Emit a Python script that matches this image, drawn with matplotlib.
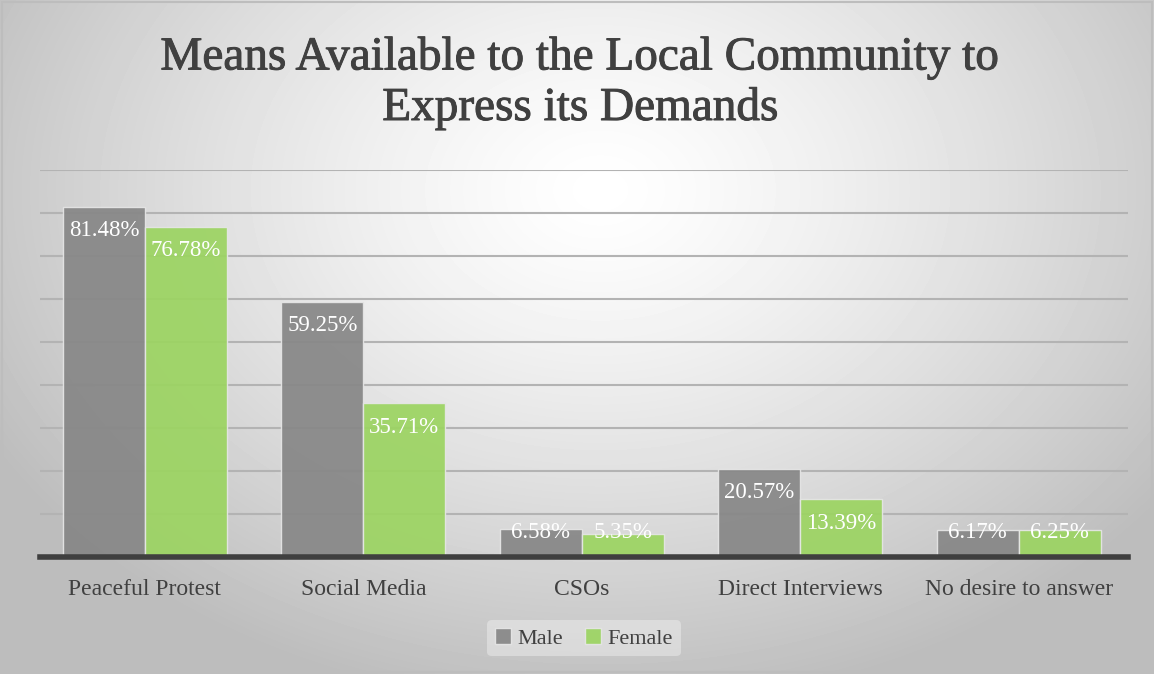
import numpy as np
import matplotlib.pyplot as plt
import matplotlib.patheffects as pe
from matplotlib.patches import Rectangle

plt.rcParams['font.family'] = ['Liberation Serif', 'DejaVu Serif']

categories = ['Peaceful Protest', 'Social Media', 'CSOs', 'Direct Interviews', 'No desire to answer']
male = [81.48, 59.25, 6.58, 20.57, 6.17]
female = [76.78, 35.71, 5.35, 13.39, 6.25]

gray = '#878787'
green = '#9cd462'
text_col = '#404040'

fig = plt.figure(figsize=(11.54, 6.74), dpi=100)

# radial gradient background
bg = fig.add_axes([0, 0, 1, 1])
yy, xx = np.mgrid[0:674, 0:1154]
r = np.sqrt(((xx - 600) / 700.0) ** 2 + ((yy - 190) / 520.0) ** 2)
shade = np.clip(1.0 - 0.26 * r ** 1.3, 0.74, 1.0)
bg.imshow(shade, cmap='gray', vmin=0, vmax=1, aspect='auto', extent=[0, 1, 0, 1])
bg.add_patch(Rectangle((0.002, 0.003), 0.996, 0.994, fill=False, edgecolor='#bdbdbd', lw=1.5))
bg.set_xlim(0, 1)
bg.set_ylim(0, 1)
bg.axis('off')

ax = fig.add_axes([40 / 1154, 1 - 557 / 674, 1088 / 1154, 387 / 674])
ax.patch.set_alpha(0)

x = np.arange(len(categories))
w = 0.375
b1 = ax.bar(x - w / 2, male, width=w, color=gray, alpha=0.93, edgecolor='#e6e6e6',
            linewidth=1, label='Male', zorder=3)
b2 = ax.bar(x + w / 2, female, width=w, color=green, alpha=0.93, edgecolor='#e6e6e6',
            linewidth=1, label='Female', zorder=3)

# value labels sit just inside the bar tops
for bars, vals in ((b1, male), (b2, female)):
    for rect, v in zip(bars, vals):
        ax.text(rect.get_x() + rect.get_width() / 2, max(v - 5.5, 5.6), f'{v:.2f}%',
                ha='center', va='center', color='white', fontsize=16.5, zorder=4)

ax.set_ylim(0, 90)
ax.set_xlim(-0.48, 4.5)
ax.set_yticks(np.arange(0, 91, 10))
ax.yaxis.grid(True, color='#b3b3b3', linewidth=1.5, zorder=0)
ax.tick_params(axis='y', left=False, labelleft=False)
ax.tick_params(axis='x', length=0, pad=16, labelsize=17, labelcolor=text_col)
ax.set_xticks(x)
ax.set_xticklabels(categories)
for s in ['top', 'right', 'left']:
    ax.spines[s].set_visible(False)
ax.spines['bottom'].set_color('#3f3f3f')
ax.spines['bottom'].set_linewidth(4)
ax.spines['bottom'].set_zorder(5)

thick = [pe.withStroke(linewidth=0.7, foreground=text_col)]
fig.text(0.503, 0.914, 'Means Available to the Local Community to', ha='center', va='center',
         fontsize=34, color=text_col, path_effects=thick)
fig.text(0.503, 0.839, 'Express its Demands', ha='center', va='center',
         fontsize=34, color=text_col, path_effects=thick)

leg = ax.legend(loc='center', bbox_to_anchor=(0.5, -0.21), ncol=2, frameon=True,
                fontsize=16, handlelength=0.7, handleheight=0.7, handletextpad=0.3,
                columnspacing=1.0, borderpad=0.35)
leg.get_frame().set_facecolor('#f2f2f2')
leg.get_frame().set_edgecolor('none')
leg.get_frame().set_alpha(0.45)
for t in leg.get_texts():
    t.set_color(text_col)

fig.savefig('out.png', dpi=100)
